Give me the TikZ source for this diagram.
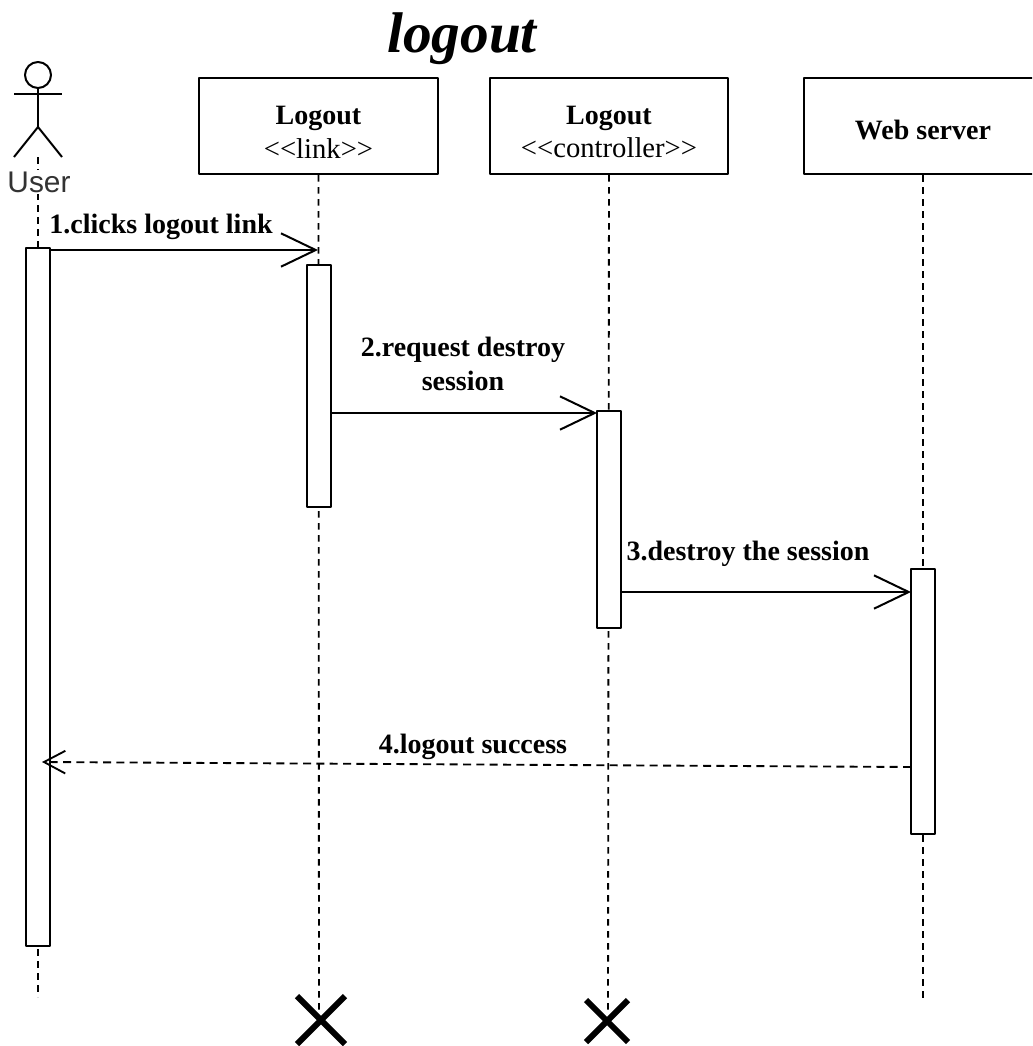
\documentclass[tikz,border=0pt]{standalone}
\usepackage{fontspec}
\setmainfont{Liberation Serif}
\newfontfamily\usrfont{Liberation Sans}
\usetikzlibrary{arrows.meta,calc}
\tikzset{
	lifebox/.style={draw,line width=1.5pt,fill=white,minimum width=179pt,minimum height=72pt,inner sep=0pt,align=center,font=\fontsize{21}{25}\selectfont\bfseries},
	actbar/.style={draw,line width=1.5pt,fill=white,minimum width=17.5pt,inner sep=0pt},
	lifeline/.style={line width=1.4pt,dash pattern=on 5pt off 4pt},
	msg/.style={line width=1.5pt,-{Straight Barb[length=26pt,width=25pt,line width=1.5pt]}},
	msglabel/.style={inner sep=0pt,align=center,font=\fontsize{21}{25}\selectfont\bfseries}
}
\newcommand{\stereotxt}[1]{{\fontsize{21.5}{25}\selectfont\mdseries <{}<#1>{}>}}
\begin{document}
\begin{tikzpicture}[x=0.75pt,y=-0.75pt,line join=round]
	\useasboundingbox (0,0) rectangle (1032,1046);
	\clip (0,0) rectangle (1032,1046);
	\node[inner sep=0pt,font=\fontsize{43}{43}\selectfont\bfseries\itshape] (title) at (462,39) {logout};
	% lifelines
	\coordinate (userEnd) at (38,997);
	\coordinate (userTop) at (38,157);
	\coordinate (webEnd) at (923,1000);
	\coordinate (linkEnd) at (319,1012);
	\coordinate (ctrlEnd) at (608,1013);
	\node[lifebox] (link) at (318.5,126) {\rule{0pt}{23pt}Logout\\\stereotxt{link}};
	\node[lifebox] (ctrl) at (609,126) {\rule{0pt}{23pt}Logout\\\stereotxt{controller}};
	\node[lifebox] (web) at (923,126) {\rule{0pt}{20pt}Web server};
	\draw[lifeline] (userTop) -- (userEnd);
	\foreach \a/\b in {link/linkEnd,ctrl/ctrlEnd,web/webEnd}
		\draw[lifeline] (\a.south) -- (\b);
	% actor
	\node[draw,circle,line width=1.5pt,minimum size=19.5pt,inner sep=0pt] (head) at (38,75) {};
	\coordinate (hip) at (38,127);
	\draw[line width=1.5pt] (head.south) -- (hip);
	\draw[line width=1.5pt] (14,94) -- (62,94);
	\draw[line width=1.5pt] (14,157) -- (hip) -- (62,157);
	\node[fill=white,inner sep=1pt,text=black!80,font=\fontsize{22.4}{22.4}\selectfont\usrfont] (user) at (39,182) {User};
	% activation bars
	\node[actbar,minimum height=523.5pt] (actUser) at (38,597) {};
	\node[actbar,minimum height=181.5pt] (actLink) at (319,386) {};
	\node[actbar,minimum height=162.75pt] (actCtrl) at (609,519.5) {};
	\node[actbar,minimum height=198.75pt] (actWeb) at (923,701) {};
	% messages
	\coordinate (m1a) at (50,250);
	\coordinate (m1b) at (318,250);
	\coordinate (m2a) at (331,413);
	\coordinate (m2b) at (597,413);
	\coordinate (m3a) at (621,592);
	\coordinate (m3b) at (911,592);
	\coordinate (m4a) at (911,767);
	\coordinate (m4b) at (42,762);
	\draw[msg] (m1a) -- (m1b);
	\draw[msg] (m2a) -- (m2b);
	\draw[msg] (m3a) -- (m3b);
	\draw[line width=1.4pt,dash pattern=on 6pt off 4pt,-{Straight Barb[length=16pt,width=17pt,line width=1.4pt]}] (m4a) -- (m4b);
	\node[msglabel] (l1) at (161,227) {1.clicks logout link};
	\node[msglabel] (l2) at (463,364) {2.request destroy\\session};
	\node[msglabel] (l3) at (748,554) {3.destroy the session};
	\node[msglabel] (l4) at (473,747) {4.logout success};
	% destroyed objects
	\coordinate (xLink) at (321,1020);
	\coordinate (xCtrl) at (607,1021);
	\foreach \c/\r in {xLink/24,xCtrl/21}
		\draw[line width=4.5pt] ($(\c)+(-\r,-\r)$) -- ($(\c)+(\r,\r)$) ($(\c)+(-\r,\r)$) -- ($(\c)+(\r,-\r)$);
\end{tikzpicture}
\end{document}
